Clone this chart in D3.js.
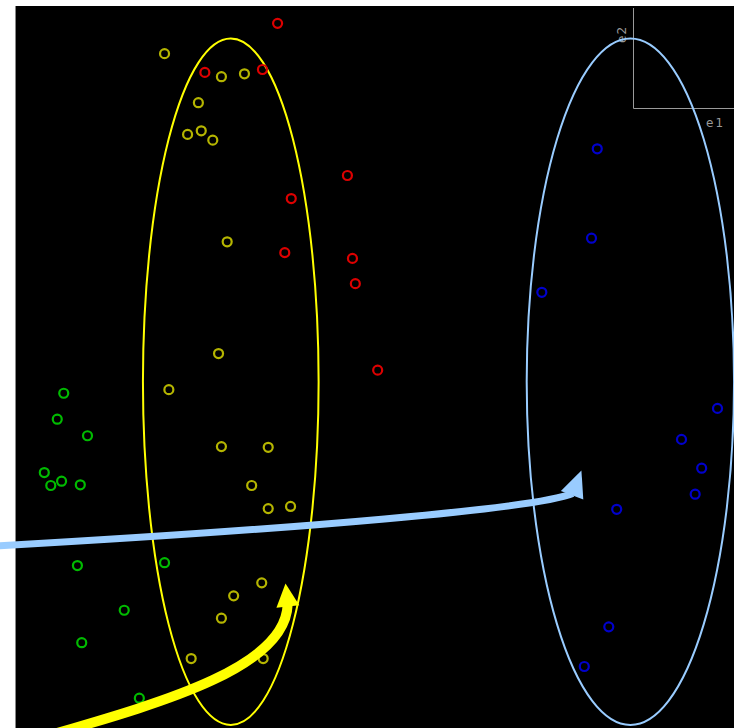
<!DOCTYPE html>
<meta charset="utf-8">
<script src="https://d3js.org/d3.v7.min.js"></script>
<style>
  body { margin: 0; background: #fff; }
</style>
<div id="my_dataviz"></div>
<script>
// point data in (e1, e2) units
const redE1 = [3.64, 2.63, 3.43, 4.61, 3.83, 3.74, 4.68, 4.72, 5.03];
const redE2 = [9.78, 9.10, 9.14, 7.67, 7.35, 6.60, 6.52, 6.17, 4.97];

const yellowE1 = [2.07, 2.86, 3.18, 2.54, 2.39, 2.58, 2.74, 2.94, 2.82, 2.13, 2.86, 3.51, 3.28, 3.51, 3.82, 3.42, 3.03, 2.86, 2.44, 3.44];
const yellowE2 = [9.36, 9.04, 9.08, 8.68, 8.24, 8.29, 8.16, 6.75, 5.20, 4.70, 3.91, 3.90, 3.37, 3.05, 3.08, 2.02, 1.84, 1.53, 0.97, 0.97];

const greenE1 = [0.67, 0.58, 1.00, 0.40, 0.49, 0.64, 0.90, 0.86, 2.07, 1.51, 0.92, 1.72];
const greenE2 = [4.65, 4.29, 4.06, 3.55, 3.37, 3.43, 3.38, 2.26, 2.30, 1.64, 1.19, 0.42];

const blueE1 = [8.08, 8.00, 7.31, 9.75, 9.25, 9.53, 9.44, 8.35, 8.24, 7.90];
const blueE2 = [8.04, 6.80, 6.05, 4.44, 4.01, 3.61, 3.25, 3.04, 1.41, 0.86];

// cluster ellipses: centre e1, centre e2, radius e1, radius e2
const ellipseNames = ["yellow", "blue"];
const ellipseCx = [2.99, 8.54];
const ellipseCy = [4.81, 4.81];
const ellipseRx = [1.22, 1.44];
const ellipseRy = [4.76, 4.76];

// annotation arrows: start, control 1, control 2, end, tip (e1, e2)
const blueArrow = [[-0.28, 2.53], [3.96, 2.77], [7.22, 3.05], [7.74, 3.26], [7.86, 3.58]];
const yellowArrow = [[0.21, -0.17], [1.88, 0.32], [3.75, 0.80], [3.78, 1.72], [3.75, 2.01]];

// axis labels
const axisLabels = ["e1", "e2"];

const W = 741, H = 728;
const plot = {left: 15, right: 734, top: 6, bottom: 728};

const svg = d3.select("#my_dataviz")
  .append("svg")
    .attr("width", W)
    .attr("height", H);

const x = d3.scaleLinear().domain([0, 10]).range([15.5, 735.5]);
const y = d3.scaleLinear().domain([0, 10]).range([728.5, 7.5]);

// black plotting area
svg.append("rect")
  .attr("x", plot.left)
  .attr("y", plot.top)
  .attr("width", plot.right - plot.left)
  .attr("height", plot.bottom - plot.top)
  .attr("fill", "#000");
svg.append("line")
  .attr("x1", plot.left + 0.5).attr("x2", plot.left + 0.5)
  .attr("y1", plot.top).attr("y2", plot.bottom)
  .attr("stroke", "#888").attr("stroke-width", 1);

svg.append("clipPath").attr("id", "clip")
  .append("rect")
  .attr("x", plot.left).attr("y", plot.top)
  .attr("width", plot.right - plot.left).attr("height", plot.bottom - plot.top);

const inner = svg.append("g").attr("clip-path", "url(#clip)");

// small orientation axes in top right corner
const ax0 = 633, ay0 = 108;
inner.append("path")
  .attr("d", `M${ax0 + 0.5},8 V${ay0 + 0.5} H${plot.right}`)
  .attr("fill", "none")
  .attr("stroke", "#9a9a9a")
  .attr("stroke-width", 1);
inner.append("text")
  .attr("x", 706).attr("y", 127)
  .attr("fill", "#9a9a9a")
  .attr("font-family", "DejaVu Sans, sans-serif")
  .attr("font-size", 12)
  .attr("letter-spacing", 2)
  .text(axisLabels[0]);
inner.append("text")
  .attr("transform", "translate(626,43) rotate(-90)")
  .attr("fill", "#9a9a9a")
  .attr("font-family", "DejaVu Sans, sans-serif")
  .attr("font-size", 12)
  .attr("letter-spacing", 1)
  .text(axisLabels[1]);

// ellipses
const ellipseStroke = {yellow: "#ffff00", blue: "#99ccff"};
ellipseNames.forEach((name, i) => {
  inner.append("ellipse")
    .attr("cx", x(ellipseCx[i]))
    .attr("cy", y(ellipseCy[i]))
    .attr("rx", x(ellipseRx[i]) - x(0))
    .attr("ry", y(0) - y(ellipseRy[i]))
    .attr("fill", "none")
    .attr("stroke", ellipseStroke[name])
    .attr("stroke-width", 2);
});

// points
const groups = [
  {e1: redE1, e2: redE2, color: "#dd0000"},
  {e1: yellowE1, e2: yellowE2, color: "#b5b500"},
  {e1: greenE1, e2: greenE2, color: "#00bb00"},
  {e1: blueE1, e2: blueE2, color: "#0000cc"}
];
groups.forEach(g => {
  inner.selectAll(null)
    .data(d3.zip(g.e1, g.e2))
    .join("circle")
      .attr("cx", d => x(d[0]))
      .attr("cy", d => y(d[1]))
      .attr("r", 4.5)
      .attr("fill", "none")
      .attr("stroke", g.color)
      .attr("stroke-width", 2.2);
});

// arrows (not clipped, blue one runs into the white margin)
function drawArrow(pts, color, width, headW) {
  const p = pts.map(d => [x(d[0]), y(d[1])]);
  const path = d3.path();
  path.moveTo(p[0][0], p[0][1]);
  path.bezierCurveTo(p[1][0], p[1][1], p[2][0], p[2][1], p[3][0], p[3][1]);
  svg.append("path")
    .attr("d", path.toString())
    .attr("fill", "none")
    .attr("stroke", color)
    .attr("stroke-width", width);
  // triangular head from end point towards tip
  const dx = p[4][0] - p[3][0], dy = p[4][1] - p[3][1];
  const len = Math.hypot(dx, dy);
  const nx = -dy / len, ny = dx / len;
  const bx = p[3][0] - dx / len * 2, by = p[3][1] - dy / len * 2;
  svg.append("path")
    .attr("d", `M${p[4][0]},${p[4][1]} L${bx + nx * headW / 2},${by + ny * headW / 2} L${bx - nx * headW / 2},${by - ny * headW / 2} Z`)
    .attr("fill", color);
}
drawArrow(blueArrow, "#99ccff", 7, 24);
drawArrow(yellowArrow, "#ffff00", 10, 23);
</script>
